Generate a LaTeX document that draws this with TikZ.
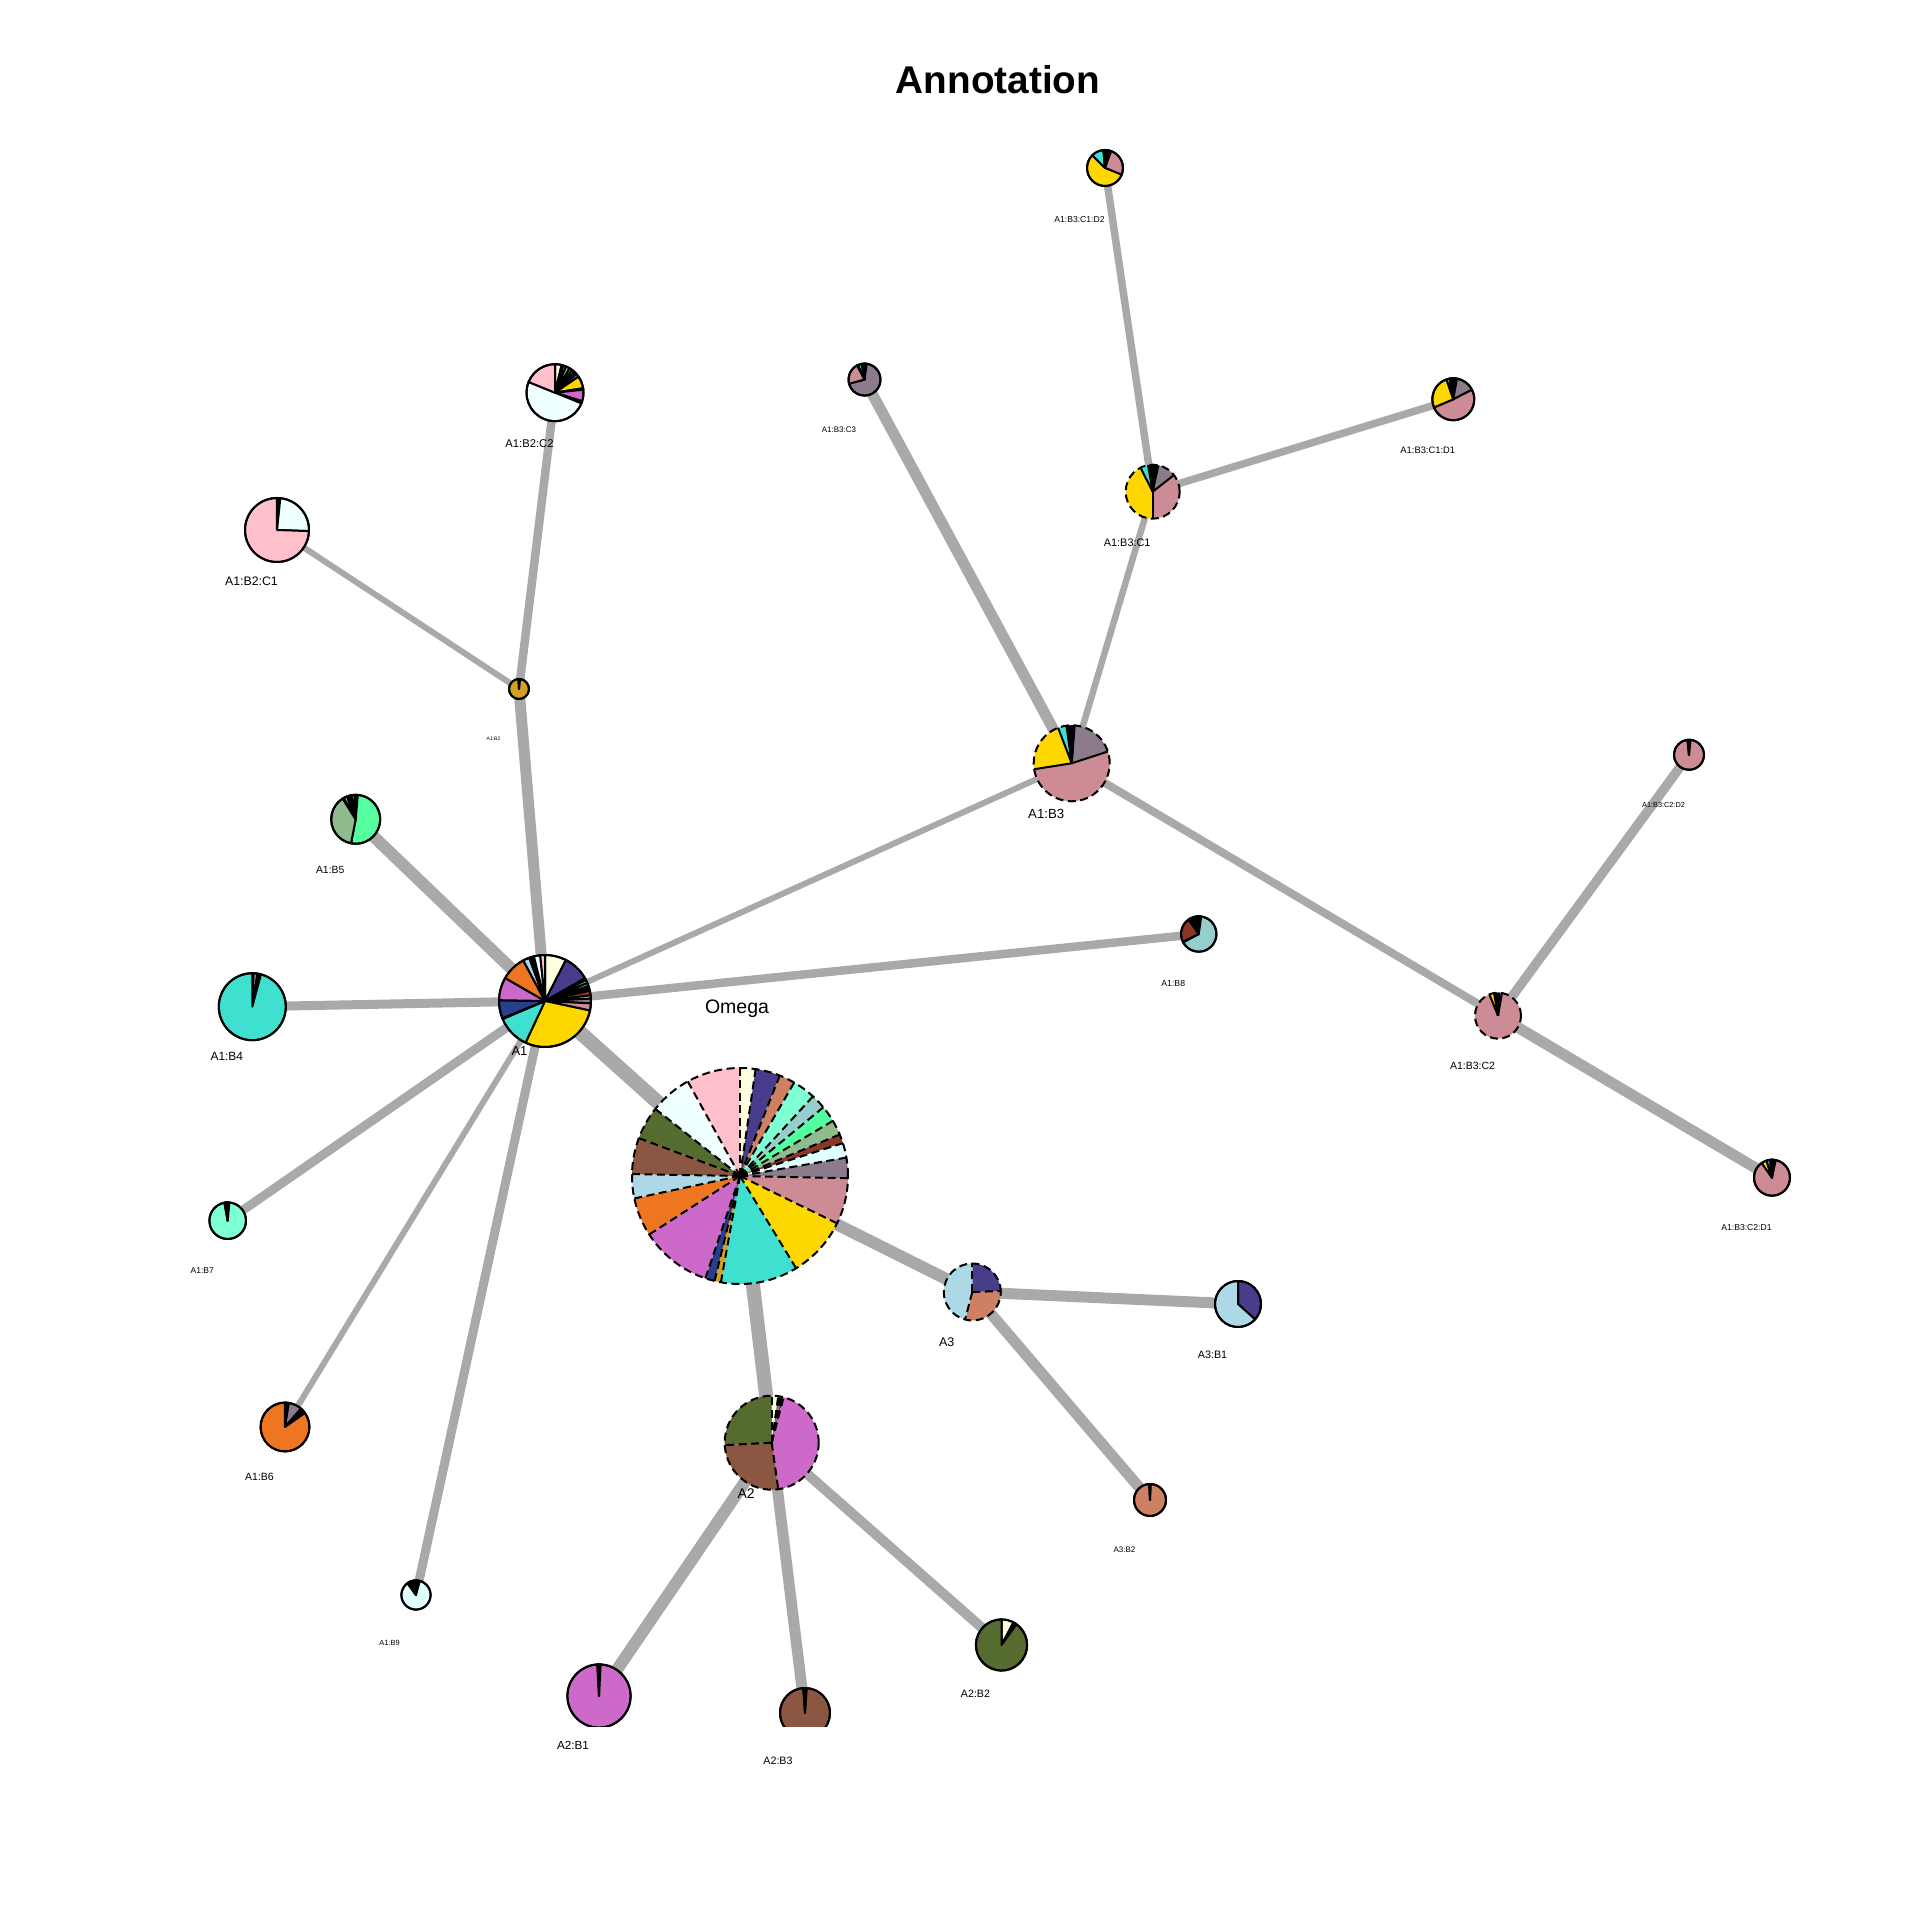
\documentclass[tikz,border=0pt]{standalone}
\usepackage{fontspec}
\setmainfont{Liberation Sans}
\setsansfont{Liberation Sans}
\definecolor{k1}{HTML}{FFFFE0}
\definecolor{k2}{HTML}{483D8B}
\definecolor{k3}{HTML}{CD8162}
\definecolor{k4}{HTML}{7FFFD4}
\definecolor{k5}{HTML}{96CDCD}
\definecolor{k6}{HTML}{54FF9F}
\definecolor{k7}{HTML}{8FBC8F}
\definecolor{k8}{HTML}{8B3626}
\definecolor{k9}{HTML}{E0FFFF}
\definecolor{k10}{HTML}{8B7B8B}
\definecolor{k11}{HTML}{CD8C95}
\definecolor{k12}{HTML}{FFD700}
\definecolor{k13}{HTML}{40E0D0}
\definecolor{k14}{HTML}{D4A020}
\definecolor{k15}{HTML}{27408B}
\definecolor{k16}{HTML}{CD69C9}
\definecolor{k17}{HTML}{EE7621}
\definecolor{k18}{HTML}{ADD8E6}
\definecolor{k19}{HTML}{8B5742}
\definecolor{k20}{HTML}{556B2F}
\definecolor{k21}{HTML}{F0FFFF}
\definecolor{k22}{HTML}{FFC0CB}
\definecolor{edgegrey}{HTML}{A9A9A9}
\tikzset{
  edge/.style={draw=edgegrey},
  pieline/.style={draw=black, line width=0.57pt, line join=round},
  piedash/.style={pieline, dash pattern=on 0.08cm off 0.045cm},
  lab/.style={inner sep=0pt, text=black, anchor=center}
}
% solid pie: every slice filled and outlined
\newcommand\mypie[3]{%
  \foreach \ta/\tb/\cc in {#3} {
    \filldraw[fill=\cc, pieline] (#1) -- ++({90-\ta}:#2) arc[start angle={90-\ta}, end angle={90-\tb}, radius=#2] -- cycle;
  }
  \draw[pieline] (#1) circle[radius=#2];
}
% dashed pie: fills, radial lines in style #3, dashed rim
\newcommand\mypied[4]{%
  \foreach \ta/\tb/\cc in {#4} {
    \fill[\cc] (#1) -- ++({90-\ta}:#2) arc[start angle={90-\ta}, end angle={90-\tb}, radius=#2] -- cycle;
  }
  \foreach \ta/\tb/\cc in {#4} {
    \draw[#3] (#1) -- ++({90-\ta}:#2);
  }
  \draw[piedash] (#1) circle[radius=#2];
}
\begin{document}
\begin{tikzpicture}[x=0.01cm, y=0.01cm]
\useasboundingbox (0,0) rectangle (1920,1920);
% node centres
\coordinate (om) at (740,744);
\coordinate (a1) at (545,919);
\coordinate (a2) at (771.7,477.3);
\coordinate (a3) at (972.3,628);
\coordinate (b12) at (519,1231);
\coordinate (c121) at (277,1390);
\coordinate (c122) at (555,1527.3);
\coordinate (b13) at (1071.7,1156.7);
\coordinate (c131) at (1152.7,1428.3);
\coordinate (d1311) at (1453.3,1520.7);
\coordinate (d1312) at (1105,1752);
\coordinate (c132) at (1498,904.3);
\coordinate (d1321) at (1772,742.3);
\coordinate (d1322) at (1689,1165.2);
\coordinate (c133) at (864.5,1540.4);
\coordinate (b4) at (252.3,913.3);
\coordinate (b5) at (355.7,1100.7);
\coordinate (b6) at (285,493);
\coordinate (b7) at (227.7,699.3);
\coordinate (b8) at (1198.75,986);
\coordinate (b9) at (416,325);
\coordinate (a2b1) at (599,224);
\coordinate (a2b2) at (1001.5,275);
\coordinate (a2b3) at (805,207);
\coordinate (a3b1) at (1238,616);
\coordinate (a3b2) at (1150,420);

\begin{scope}
\clip (0,193) rectangle (1920,1920);
% edges
\draw[edge, line width=0.145cm] (a1) -- (om);
\draw[edge, line width=0.14cm] (om) -- (a2);
\draw[edge, line width=0.12cm] (om) -- (a3);
\draw[edge, line width=0.11cm] (a1) -- (b12);
\draw[edge, line width=0.085cm] (b12) -- (c122);
\draw[edge, line width=0.06cm] (b12) -- (c121);
\draw[edge, line width=0.06cm] (a1) -- (b13);
\draw[edge, line width=0.11cm] (b13) -- (c133);
\draw[edge, line width=0.065cm] (b13) -- (c131);
\draw[edge, line width=0.075cm] (c131) -- (d1312);
\draw[edge, line width=0.075cm] (c131) -- (d1311);
\draw[edge, line width=0.08cm] (b13) -- (c132);
\draw[edge, line width=0.095cm] (c132) -- (d1322);
\draw[edge, line width=0.11cm] (c132) -- (d1321);
\draw[edge, line width=0.09cm] (a1) -- (b4);
\draw[edge, line width=0.12cm] (a1) -- (b5);
\draw[edge, line width=0.06cm] (a1) -- (b6);
\draw[edge, line width=0.09cm] (a1) -- (b7);
\draw[edge, line width=0.085cm] (a1) -- (b8);
\draw[edge, line width=0.09cm] (a1) -- (b9);
\draw[edge, line width=0.12cm] (a2) -- (a2b1);
\draw[edge, line width=0.11cm] (a2) -- (a2b3);
\draw[edge, line width=0.10cm] (a2) -- (a2b2);
\draw[edge, line width=0.11cm] (a3) -- (a3b1);
\draw[edge, line width=0.11cm] (a3) -- (a3b2);

% pies
\mypied{om}{108}{piedash}{0/8.3/k1, 8.3/21.6/k2, 21.6/30.1/k3, 30.1/42.5/k4, 42.5/50.5/k5, 50.5/59.3/k6, 59.3/67.4/k7, 67.4/72.3/k8, 72.3/80.2/k9, 80.2/91.2/k10, 91.2/116/k11, 116/148.7/k12, 148.7/190.2/k13, 190.2/193.6/k14, 193.6/198.7/k15, 198.7/237.2/k16, 237.2/258/k17, 258/271/k18, 271/290.5/k19, 290.5/308.4/k20, 308.4/331.1/k21, 331.1/360/k22}
\mypie{a1}{46}{0/27/k1, 27/60.4/k2, 60.4/63/k3, 63/67/k4, 67/71/k5, 71/74/k6, 74/77/k7, 77/83/k8, 83/87/k9, 87/93/k10, 93/102/k11, 102/205/k12, 205/247/k13, 247/248/k14, 248/271/k15, 271/300/k16, 300/331.8/k17, 331.8/340/k18, 340/343/k19, 343/346/k20, 346/354/k21, 354/360/k22}
\mypied{a2}{47}{piedash}{0/8/k1, 8/10/k2, 10/12/k3, 12/14.7/k15, 14.7/172/k16, 172/267/k19, 267/360/k20}
\mypied{a3}{28.5}{piedash}{0/88/k2, 88/194.7/k3, 194.7/360/k18}
\mypie{b12}{10}{0/3/k12, 3/6/k13, 6/357/k14, 357/360/k15}
\mypie{c121}{32}{0/2/k1, 2/4/k2, 4/6/k12, 6/92/k21, 92/360/k22}
\mypie{c122}{28.5}{0/13.5/k1, 13.5/17/k2, 17/23/k5, 23/31/k7, 31/37/k9, 37/43/k6, 43/49/k10, 49/55.6/k11, 55.6/81/k12, 81/84/k13, 84/107.6/k16, 107.6/110/k17, 110/112/k19, 112/292/k21, 292/360/k22}
\mypied{b13}{38}{pieline}{0/1/k1, 1/2/k2, 2/3/k4, 3/4.5/k6, 4.5/72/k10, 72/261/k11, 261/339/k12, 339/352/k13, 352/354/k15, 354/356/k16, 356/358/k17, 358/360/k22}
\mypied{c131}{27}{pieline}{0/3/k1, 3/6/k3, 6/9/k4, 9/12/k6, 12/52/k10, 52/180/k11, 180/333/k12, 333/350/k13, 350/353/k15, 353/356/k16, 356/360/k17}
\mypie{d1311}{21}{0/2/k1, 2/4/k2, 4/6/k4, 6/10/k8, 10/63/k10, 63/247/k11, 247/341/k12, 341/350/k13, 350/353/k15, 353/356/k16, 356/360/k17}
\mypie{d1312}{18}{0/2/k1, 2/5/k2, 5/8/k4, 8/11/k6, 11/20/k10, 20/112/k11, 112/315/k12, 315/355/k13, 355/357/k15, 357/360/k16}
\mypied{c132}{23}{pieline}{0/2/k2, 2/4/k6, 4/10/k10, 10/338/k11, 338/350/k12, 350/354/k13, 354/357/k15, 357/360/k16}
\mypie{d1321}{18}{0/2/k2, 2/4/k6, 4/12/k10, 12/325/k11, 325/342/k12, 342/354/k13, 354/357/k15, 357/360/k16}
\mypie{d1322}{15}{0/3/k2, 3/6/k10, 6/354/k11, 354/357/k12, 357/360/k13}
\mypie{c133}{16}{0/3/k2, 3/8/k4, 8/255/k10, 255/333/k11, 333/336/k12, 336/350/k13, 350/354/k15, 354/360/k16}
\mypie{b4}{33.5}{0/2/k2, 2/9/k10, 9/11/k11, 11/13/k12, 13/15/k4, 15/360/k13}
\mypie{b5}{24.5}{0/2/k1, 2/5/k4, 5/191/k6, 191/328/k7, 328/331/k8, 331/339/k9, 339/343/k10, 343/347/k11, 347/350/k13, 350/357/k21, 357/360/k22}
\mypie{b6}{24.4}{0/4/k8, 4/9/k9, 9/41/k10, 41/45/k11, 45/49/k12, 49/55/k13, 55/360/k17}
\mypie{b7}{18.3}{0/2.5/k1, 2.5/5.3/k3, 5.3/349.5/k4, 349.5/352/k10, 352/354/k12, 354/356/k13, 356/358/k16, 358/360/k17}
\mypie{b8}{17.7}{0/2/k1, 2/4/k2, 4/8/k4, 8/242/k5, 242/244/k6, 244/325/k8, 325/330/k10, 330/335/k11, 335/340/k12, 340/345/k13, 345/350/k16, 350/355/k17, 355/360/k21}
\mypie{b9}{14.6}{0/4/k1, 4/8/k4, 8/15/k6, 15/324/k9, 324/330/k10, 330/336/k16, 336/342/k17, 342/350/k19, 350/356/k21, 356/360/k22}
\mypie{a2b1}{31.6}{0/3/k1, 3/357/k16, 357/360/k20}
\mypie{a2b2}{25.6}{0/28/k1, 28/30/k3, 30/33/k16, 33/36/k19, 36/360/k20}
\mypie{a2b3}{25}{0/2/k1, 2/4/k16, 4/356/k19, 356/360/k20}
\mypie{a3b1}{23}{0/132/k2, 132/360/k18}
\mypie{a3b2}{16}{0/3/k2, 3/357/k3, 357/360/k18}
\end{scope}

% labels
\node[lab, font=\bfseries\fontsize{11pt}{13pt}\selectfont] (title) at (998,1840) {Annotation};
\node[lab, anchor=base, font=\fontsize{5.55pt}{6.5pt}\selectfont] (lom) at (737,906) {Omega};
\node[lab, font=\fontsize{3.7pt}{4.4pt}\selectfont] (la1) at ([shift={(-25.5,-50)}]a1) {A1};
\node[lab, font=\fontsize{3.98pt}{4.6pt}\selectfont] (la2) at ([shift={(-25.5,-51)}]a2) {A2};
\node[lab, font=\fontsize{3.56pt}{4.2pt}\selectfont] (la3) at ([shift={(-25.5,-50)}]a3) {A3};
\node[lab, font=\fontsize{1.42pt}{1.7pt}\selectfont] (lb12) at ([shift={(-25.5,-50)}]b12) {A1:B2};
\node[lab, font=\fontsize{3.5pt}{4.2pt}\selectfont] (lc121) at ([shift={(-25.5,-51)}]c121) {A1:B2:C1};
\node[lab, font=\fontsize{3.19pt}{3.8pt}\selectfont] (lc122) at ([shift={(-25.5,-51)}]c122) {A1:B2:C2};
\node[lab, font=\fontsize{3.76pt}{4.5pt}\selectfont] (lb13) at ([shift={(-25.5,-51)}]b13) {A1:B3};
\node[lab, font=\fontsize{3.1pt}{3.7pt}\selectfont] (lc131) at ([shift={(-25.5,-51)}]c131) {A1:B3:C1};
\node[lab, font=\fontsize{2.67pt}{3.2pt}\selectfont] (ld1311) at ([shift={(-25.5,-51)}]d1311) {A1:B3:C1:D1};
\node[lab, font=\fontsize{2.45pt}{2.9pt}\selectfont] (ld1312) at ([shift={(-25.5,-52)}]d1312) {A1:B3:C1:D2};
\node[lab, font=\fontsize{2.99pt}{3.6pt}\selectfont] (lc132) at ([shift={(-25.5,-50)}]c132) {A1:B3:C2};
\node[lab, font=\fontsize{2.45pt}{2.9pt}\selectfont] (ld1321) at ([shift={(-25.5,-50)}]d1321) {A1:B3:C2:D1};
\node[lab, font=\fontsize{2.08pt}{2.5pt}\selectfont] (ld1322) at ([shift={(-25.5,-50)}]d1322) {A1:B3:C2:D2};
\node[lab, font=\fontsize{2.28pt}{2.7pt}\selectfont] (lc133) at ([shift={(-25.5,-50)}]c133) {A1:B3:C3};
\node[lab, font=\fontsize{3.39pt}{4pt}\selectfont] (lb4) at ([shift={(-25.5,-50)}]b4) {A1:B4};
\node[lab, font=\fontsize{2.96pt}{3.5pt}\selectfont] (lb5) at ([shift={(-25.5,-51)}]b5) {A1:B5};
\node[lab, font=\fontsize{2.99pt}{3.6pt}\selectfont] (lb6) at ([shift={(-25.5,-50)}]b6) {A1:B6};
\node[lab, font=\fontsize{2.42pt}{2.9pt}\selectfont] (lb7) at ([shift={(-25.5,-50)}]b7) {A1:B7};
\node[lab, font=\fontsize{2.48pt}{3pt}\selectfont] (lb8) at ([shift={(-25.5,-50)}]b8) {A1:B8};
\node[lab, font=\fontsize{2.13pt}{2.6pt}\selectfont] (lb9) at ([shift={(-26.5,-48)}]b9) {A1:B9};
\node[lab, font=\fontsize{3.33pt}{4pt}\selectfont] (la2b1) at ([shift={(-26,-49)}]a2b1) {A2:B1};
\node[lab, font=\fontsize{3.04pt}{3.6pt}\selectfont] (la2b2) at ([shift={(-26,-49)}]a2b2) {A2:B2};
\node[lab, font=\fontsize{3.04pt}{3.6pt}\selectfont] (la2b3) at ([shift={(-27,-48)}]a2b3) {A2:B3};
\node[lab, font=\fontsize{3.07pt}{3.7pt}\selectfont] (la3b1) at ([shift={(-25.5,-51)}]a3b1) {A3:B1};
\node[lab, font=\fontsize{2.28pt}{2.7pt}\selectfont] (la3b2) at ([shift={(-25.5,-50)}]a3b2) {A3:B2};
\end{tikzpicture}
\end{document}
